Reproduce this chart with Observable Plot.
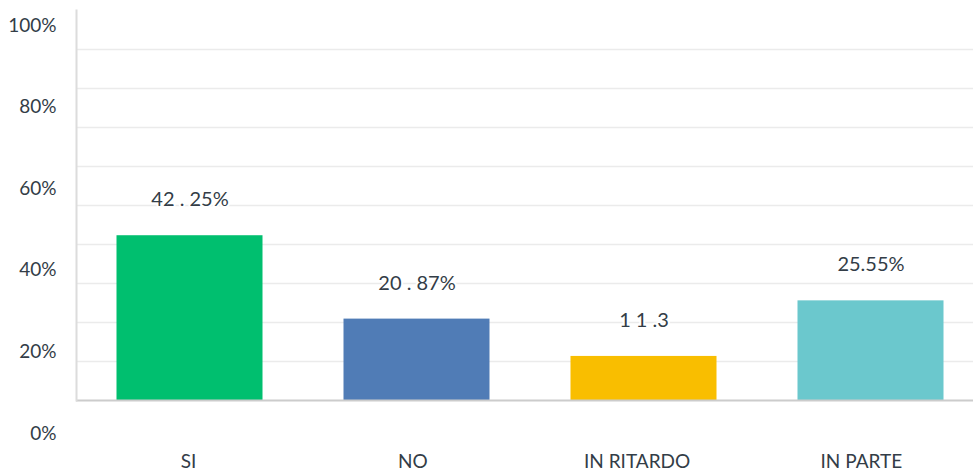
<!DOCTYPE html>
<html>
<head>
<meta charset="utf-8">
<script src="https://cdn.jsdelivr.net/npm/d3@7"></script>
<script src="https://cdn.jsdelivr.net/npm/@observablehq/plot@0.6"></script>
<style>
  html, body { margin: 0; padding: 0; background: #fff; }
  #wrap { position: relative; width: 973px; height: 473px; }
  #wrap svg { position: absolute; left: 0; top: 0; }
</style>
</head>
<body>
<div id="wrap"></div>
<script>
const categories = ["SI", "NO", "IN RITARDO", "IN PARTE"];
const values = [42.25, 20.87, 11.3, 25.55];
const valueLabels = ["42 . 25%", "20 . 87%", "1 1 .3", "25.55%"];
const colors = ["#00BF6F", "#507CB6", "#F9BE00", "#6BC8CD"];
const gridValues = [10, 20, 30, 40, 50, 60, 70, 80, 90];
const yTicks = [0, 20, 40, 60, 80, 100];
const yTickLabels = ["0%", "20%", "40%", "60%", "80%", "100%"];

const data = categories.map((c, i) => ({cat: c, value: values[i], label: valueLabels[i], color: colors[i]}));
const textColor = "#333d47";

const main = Plot.plot({
  width: 973,
  height: 473,
  marginLeft: 76,
  marginRight: 0,
  marginTop: 10,
  marginBottom: 73,
  style: {fontFamily: "Lato, sans-serif", background: "transparent", color: textColor},
  x: {type: "band", domain: categories, range: [76, 984], padding: 0, round: false, axis: null},
  y: {domain: [0, 100], range: [400, 10], axis: null},
  marks: [
    Plot.ruleY(gridValues, {stroke: "#ebebeb", strokeWidth: 1.6}),
    Plot.barY(data, {x: "cat", y: "value", fill: "color", insetLeft: 40.5, insetRight: 40.5}),
    Plot.ruleY([0], {stroke: "#cccccc", strokeWidth: 1.8}),
    Plot.frame({anchor: "left", stroke: "#dcdcdc", strokeWidth: 2}),
    Plot.text(data, {x: "cat", y: "value", text: "label", dy: -36, fill: textColor, stroke: "white", strokeWidth: 4, fontSize: 20})
  ]
});

const yLabelMap = new Map(yTicks.map((v, i) => [v, yTickLabels[i]]));
const overlay = Plot.plot({
  width: 973,
  height: 473,
  marginLeft: 76,
  marginRight: 0,
  marginTop: 25,
  marginBottom: 40,
  style: {fontFamily: "Lato, sans-serif", background: "transparent", color: textColor, fontSize: "19px"},
  x: {type: "band", domain: categories, padding: 0, round: false},
  y: {domain: [0, 100]},
  marks: [
    Plot.axisY({ticks: yTicks, tickFormat: d => yLabelMap.get(d), tickSize: 0, tickPadding: 20, fontSize: 19, label: null}),
    Plot.axisX({tickSize: 0, tickPadding: 21, fontSize: 19, label: null})
  ]
});

const wrap = document.getElementById("wrap");
wrap.appendChild(main);
wrap.appendChild(overlay);
</script>
</body>
</html>
